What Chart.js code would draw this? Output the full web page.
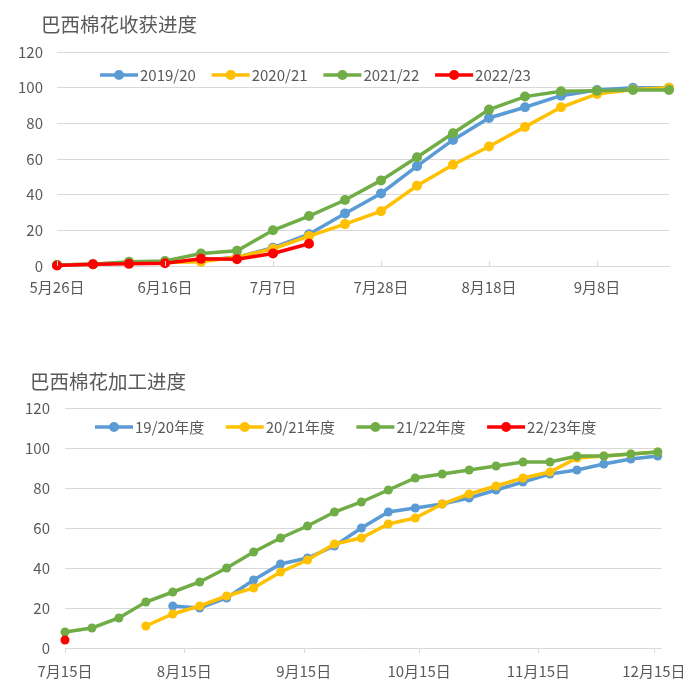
<!DOCTYPE html>
<html>
<head>
<meta charset="utf-8">
<script src="https://cdn.jsdelivr.net/npm/chart.js@4.4.1/dist/chart.umd.min.js"></script>
<style>
  body { margin: 0; background: #fff; }
  canvas { position: absolute; left: 0; }
  #harvestChart { top: 0; }
  #procChart { top: 340px; }
</style>
</head>
<body>
<canvas id="harvestChart" width="700" height="340"></canvas>
<canvas id="procChart" width="700" height="347"></canvas>
<script>
const FONT = '"Noto Sans CJK SC", "Noto Sans", sans-serif';
const TEXT = '#595959';
const GRID = '#d9d9d9';
const colors = ['#5B9BD5', '#FFC000', '#70AD47', '#FF0000'];

// Harvest progress (weekly)
const harvestDates = ['5/26', '6/2', '6/9', '6/16', '6/23', '6/30', '7/7', '7/14', '7/21',
                      '7/28', '8/4', '8/11', '8/18', '8/25', '9/1', '9/8', '9/15', '9/22'];
const harvestTicks = ['5/26', '6/16', '7/7', '7/28', '8/18', '9/8'];
const harvestLabels = ['2019/20', '2020/21', '2021/22', '2022/23'];
const harvest1920 = [0.5, 1, 2, 2, 3, 5, 10.3, 17.8, 29.5, 40.7, 56, 70.7, 83, 89, 95.5, 98.7, 100, 100];
const harvest2021 = [0.5, 1, 2, 2, 2.4, 5, 9.7, 16.8, 23.5, 30.7, 45, 56.8, 67, 78, 89, 96.5, 99, 100];
const harvest2122 = [0.5, 1, 2.4, 2.8, 7, 8.6, 20, 28, 37, 48, 61, 74.4, 87.7, 95, 98, 98.3, 98.7, 98.7];
const harvest2223 = [0.3, 1, 1.2, 1.5, 4, 3.8, 7, 12.5];

// Processing progress (weekly)
const procDates = ['7/15', '7/22', '7/29', '8/5', '8/12', '8/19', '8/26', '9/2', '9/9', '9/16', '9/23', '9/30',
                   '10/7', '10/14', '10/21', '10/28', '11/4', '11/11', '11/18', '11/25', '12/2', '12/9', '12/16'];
const procTicks = ['7/15', '8/15', '9/15', '10/15', '11/15', '12/15'];
const procLabels = ['19/20年度', '20/21年度', '21/22年度', '22/23年度'];
const proc1920 = [null, null, null, null, 21, 20, 25, 34, 42, 45, 51, 60, 68, 70, 72, 75, 79, 83, 87, 89, 92, 94.5, 96];
const proc2021 = [null, null, null, 11, 17, 21, 26, 30, 38, 44, 52, 55, 62, 65, 72, 77, 81, 85, 88, 95, 96, 97, 98];
const proc2122 = [8, 10, 15, 23, 28, 33, 40, 48, 55, 61, 68, 73, 79, 85, 87, 89, 91, 93, 93, 96, 96, 97, 98];
const proc2223 = [4];

function dayOf(s) {
    const [m, d] = s.split('/').map(Number);
    return Date.UTC(2022, m - 1, d) / 86400000;
}
function cnDate(s) {
    const [m, d] = s.split('/');
    return m + '月' + d + '日';
}

// title, legend and tick marks drawn on top of the chart
const overlay = {
    id: 'overlay',
    afterDraw(chart, args, o) {
        const ctx = chart.ctx;
        ctx.save();
        ctx.textBaseline = 'middle';
        ctx.fillStyle = TEXT;
        ctx.font = '19.5px ' + FONT;
        ctx.fillText(o.title, o.titleX, o.titleY);

        const xs = chart.scales.x;
        const bottom = chart.chartArea.bottom;
        ctx.strokeStyle = GRID;
        ctx.lineWidth = 1;
        xs.ticks.forEach(t => {
            const px = Math.round(xs.getPixelForValue(t.value)) + 0.5;
            ctx.beginPath();
            ctx.moveTo(px, bottom);
            ctx.lineTo(px, bottom + o.tickDir * 5);
            ctx.stroke();
        });

        ctx.font = '15px ' + FONT;
        chart.data.datasets.forEach((ds, i) => {
            const x = o.legendX + i * o.legendStep;
            const y = o.legendY;
            ctx.strokeStyle = ds.borderColor;
            ctx.lineWidth = 3.5;
            ctx.beginPath();
            ctx.moveTo(x, y);
            ctx.lineTo(x + 38, y);
            ctx.stroke();
            ctx.fillStyle = ds.borderColor;
            ctx.beginPath();
            ctx.arc(x + 19, y, 5, 0, Math.PI * 2);
            ctx.fill();
            ctx.fillStyle = TEXT;
            ctx.fillText(ds.label, x + 40, y);
        });
        ctx.restore();
    }
};

function makeChart(id, cfg) {
    const base = dayOf(cfg.dates[0]);
    const xs = cfg.dates.map(d => dayOf(d) - base);
    const tickVals = cfg.ticks.map(d => dayOf(d) - base);
    const tickText = {};
    cfg.ticks.forEach((d, i) => { tickText[tickVals[i]] = cnDate(d); });

    const datasets = cfg.series.map((vals, i) => ({
        label: cfg.labels[i],
        data: vals.map((v, j) => ({ x: xs[j], y: v })),
        borderColor: colors[i],
        backgroundColor: colors[i],
        pointBackgroundColor: colors[i],
        pointBorderWidth: 0,
        pointRadius: cfg.pointRadius,
        borderWidth: 3.5,
        tension: 0,
        clip: false,
        order: 4 - i
    }));

    const H = document.getElementById(id).height;
    return new Chart(document.getElementById(id).getContext('2d'), {
        type: 'line',
        data: { datasets },
        plugins: [overlay],
        options: {
            responsive: false,
            animation: false,
            layout: { padding: { top: cfg.area.top, right: 700 - cfg.area.right, left: 0, bottom: 0 } },
            plugins: {
                legend: { display: false },
                tooltip: { enabled: false },
                overlay: cfg.overlay
            },
            scales: {
                x: {
                    type: 'linear',
                    min: 0,
                    max: dayOf(cfg.end) - base,
                    afterBuildTicks: s => { s.ticks = tickVals.map(v => ({ value: v })); },
                    afterFit: s => { s.height = H - cfg.area.bottom; },
                    grid: { drawOnChartArea: false, drawTicks: false },
                    border: { display: true, color: GRID },
                    ticks: {
                        autoSkip: false,
                        maxRotation: 0,
                        padding: cfg.xPad,
                        color: TEXT,
                        font: { family: FONT, size: 15 },
                        callback: v => tickText[v] || ''
                    }
                },
                y: {
                    min: 0,
                    max: 120,
                    afterFit: s => { s.width = cfg.area.left; },
                    grid: { color: GRID, drawTicks: false },
                    border: { display: false },
                    ticks: {
                        stepSize: 20,
                        padding: cfg.yPad,
                        color: TEXT,
                        font: { family: FONT, size: 15 }
                    }
                }
            }
        }
    });
}

makeChart('harvestChart', {
    dates: harvestDates,
    ticks: harvestTicks,
    end: '9/22',
    labels: harvestLabels,
    series: [harvest1920, harvest2021, harvest2122, harvest2223],
    pointRadius: 5,
    area: { left: 57, top: 52, right: 669, bottom: 266 },
    xPad: 12,
    yPad: 14,
    overlay: { title: '巴西棉花收获进度', titleX: 41, titleY: 25, legendX: 100, legendY: 75, legendStep: 111.7, tickDir: -1 }
});

makeChart('procChart', {
    dates: procDates,
    ticks: procTicks,
    end: '12/17',
    labels: procLabels,
    series: [proc1920, proc2021, proc2122, proc2223],
    pointRadius: 4.5,
    area: { left: 65, top: 68, right: 665, bottom: 308 },
    xPad: 14,
    yPad: 15,
    overlay: { title: '巴西棉花加工进度', titleX: 30, titleY: 42, legendX: 95, legendY: 87, legendStep: 130.7, tickDir: 1 }
});
</script>
</body>
</html>
